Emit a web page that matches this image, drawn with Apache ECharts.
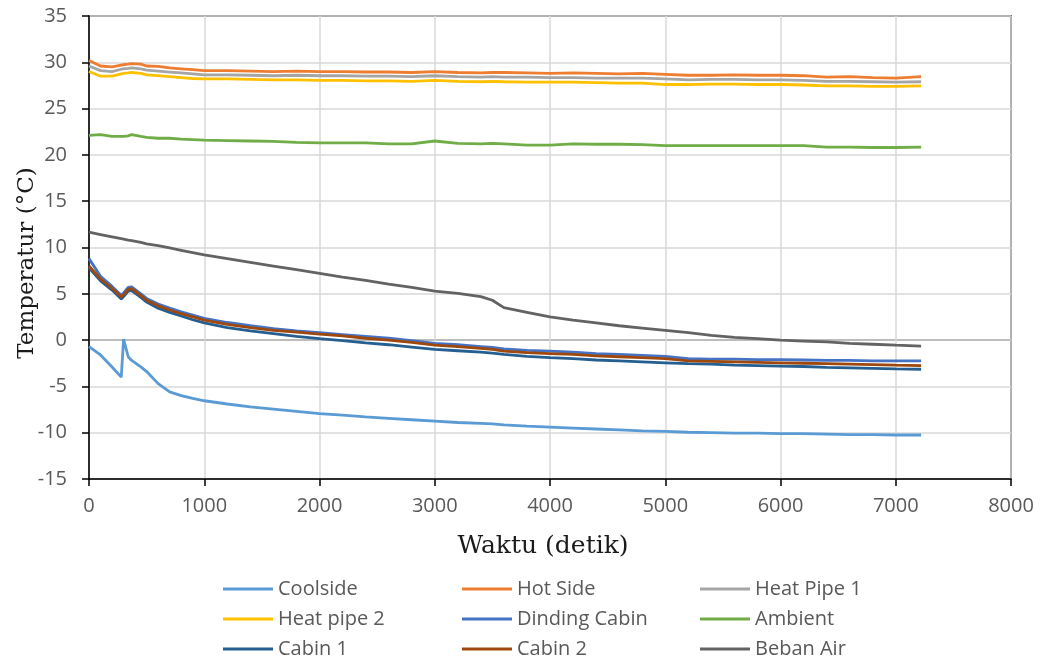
<!DOCTYPE html>
<html>
<head>
<meta charset="utf-8">
<script src="https://cdn.jsdelivr.net/npm/echarts@6/dist/echarts.min.js"></script>
<style>
html,body{margin:0;padding:0;background:#fff;}
#chart{width:1042px;height:663px;}
</style>
</head>
<body>
<div id="chart"></div>
<script>
// time axis (detik)
const times = [0,100,200,280,290,300,340,370,450,500,600,700,800,900,1000,1200,1400,1600,1800,2000,2200,2400,2600,2800,3000,3200,3400,3500,3600,3800,4000,4200,4400,4600,4800,5000,5200,5400,5600,5800,6000,6200,6400,6600,6800,7000,7220];

const coolside = [-0.7,-1.6,-2.9,-4.0,-4.2,0.1,-1.8,-2.2,-2.9,-3.4,-4.7,-5.6,-6.0,-6.3,-6.55,-6.9,-7.2,-7.45,-7.7,-7.95,-8.1,-8.3,-8.45,-8.6,-8.75,-8.9,-9.0,-9.05,-9.15,-9.3,-9.4,-9.5,-9.6,-9.7,-9.8,-9.85,-9.95,-10.0,-10.05,-10.05,-10.1,-10.1,-10.15,-10.2,-10.2,-10.25,-10.25];
const hotSide = [30.2,29.6,29.5,29.7,29.7,29.75,29.8,29.85,29.8,29.6,29.55,29.4,29.3,29.2,29.1,29.1,29.05,29.0,29.05,29.0,29.0,28.95,28.95,28.9,29.0,28.9,28.85,28.9,28.9,28.85,28.8,28.85,28.8,28.75,28.8,28.7,28.6,28.6,28.65,28.6,28.6,28.55,28.4,28.45,28.35,28.3,28.45];
const heatPipe1 = [29.6,29.1,29.0,29.25,29.25,29.3,29.35,29.4,29.3,29.15,29.05,28.95,28.85,28.75,28.65,28.65,28.6,28.55,28.6,28.55,28.55,28.5,28.5,28.45,28.55,28.45,28.4,28.45,28.4,28.4,28.35,28.35,28.3,28.3,28.3,28.2,28.1,28.15,28.15,28.1,28.1,28.05,27.95,27.95,27.9,27.85,27.9];
const heatPipe2 = [29.0,28.5,28.5,28.75,28.75,28.8,28.85,28.9,28.8,28.65,28.55,28.45,28.35,28.25,28.2,28.2,28.15,28.1,28.1,28.05,28.05,28.0,28.0,27.95,28.05,27.95,27.9,27.95,27.9,27.85,27.85,27.85,27.8,27.75,27.75,27.6,27.6,27.65,27.65,27.6,27.6,27.55,27.45,27.45,27.4,27.4,27.45];
const dindingCabin = [8.8,6.9,5.8,4.85,4.7,5.1,5.7,5.75,5.0,4.5,3.9,3.45,3.05,2.7,2.35,1.9,1.55,1.25,1.0,0.8,0.6,0.4,0.2,-0.05,-0.35,-0.5,-0.7,-0.8,-0.95,-1.1,-1.2,-1.3,-1.45,-1.55,-1.65,-1.75,-2.0,-2.05,-2.05,-2.1,-2.1,-2.15,-2.2,-2.2,-2.25,-2.25,-2.25];
const ambient = [22.1,22.2,22.0,22.0,22.0,22.0,22.05,22.2,22.0,21.9,21.8,21.8,21.7,21.65,21.6,21.55,21.5,21.45,21.35,21.3,21.3,21.3,21.2,21.2,21.5,21.25,21.2,21.25,21.2,21.05,21.05,21.2,21.15,21.15,21.1,21.0,21.0,21.0,21.0,21.0,21.0,21.0,20.85,20.85,20.8,20.8,20.85];
const cabin1 = [7.8,6.4,5.4,4.45,4.3,4.7,5.3,5.35,4.6,4.1,3.45,3.0,2.6,2.2,1.85,1.35,1.0,0.7,0.4,0.15,-0.05,-0.3,-0.5,-0.75,-1.0,-1.15,-1.3,-1.4,-1.55,-1.75,-1.9,-2.0,-2.15,-2.25,-2.35,-2.45,-2.55,-2.6,-2.7,-2.75,-2.8,-2.85,-2.95,-3.0,-3.05,-3.1,-3.15];
const cabin2 = [8.0,6.6,5.6,4.65,4.5,4.9,5.5,5.55,4.8,4.3,3.7,3.25,2.85,2.5,2.15,1.7,1.35,1.05,0.85,0.65,0.45,0.2,0.0,-0.25,-0.55,-0.7,-0.9,-1.0,-1.2,-1.35,-1.45,-1.55,-1.7,-1.8,-1.9,-2.0,-2.25,-2.3,-2.35,-2.4,-2.45,-2.5,-2.55,-2.6,-2.65,-2.7,-2.75];
const bebanAir = [11.65,11.4,11.15,10.95,10.93,10.9,10.8,10.75,10.55,10.4,10.2,9.95,9.7,9.45,9.2,8.8,8.4,8.0,7.6,7.2,6.8,6.45,6.05,5.7,5.3,5.05,4.7,4.3,3.5,3.0,2.5,2.15,1.85,1.55,1.3,1.05,0.8,0.5,0.3,0.15,0.0,-0.1,-0.2,-0.35,-0.45,-0.55,-0.65];

const seriesNames = ['Coolside','Hot Side','Heat Pipe 1','Heat pipe 2','Dinding Cabin','Ambient','Cabin 1','Cabin 2','Beban Air'];
const seriesValues = [coolside,hotSide,heatPipe1,heatPipe2,dindingCabin,ambient,cabin1,cabin2,bebanAir];
const seriesColors = ['#5B9BD5','#ED7D31','#A5A5A5','#FFC000','#4472C4','#70AD47','#255E91','#9E480E','#636363'];

const xTitle = 'Waktu (detik)';
const yTitle = 'Temperatur (°C)';

const chart = echarts.init(document.getElementById('chart'));

const tickFont = {fontFamily:'"Open Sans"', fontSize:20, color:'#595959'};
const legendCommon = {
  orient:'vertical', top:574, height:110, itemWidth:50, itemHeight:14, itemGap:10,
  icon:'path://M0,0 L50,0 L50,3 L0,3 Z',
  textStyle:{fontFamily:'"Open Sans"', fontSize:20, color:'#595959'}
};

const ySplitColors = [];
for (let v=-15; v<=35; v+=5) ySplitColors.push(v===0 ? '#a6a6a6' : '#d9d9d9');

chart.setOption({
  animation:false,
  backgroundColor:'#fff',
  grid:{left:89, right:31, top:16, bottom:184, show:true, borderColor:'#000', borderWidth:1.5, containLabel:false},
  xAxis:{
    type:'value', min:0, max:8000, interval:1000,
    axisLine:{show:true, onZero:false, lineStyle:{color:'#000', width:1.5}},
    axisTick:{show:true, length:7, lineStyle:{color:'#000', width:1.5}},
    axisLabel:{margin:17, formatter:(v)=>String(v), ...tickFont},
    splitLine:{show:true, lineStyle:{color:'#d9d9d9', width:1.5}}
  },
  yAxis:{
    type:'value', min:-15, max:35, interval:5,
    axisLine:{show:true, onZero:false, lineStyle:{color:'#000', width:1.5}},
    axisTick:{show:true, length:7, lineStyle:{color:'#000', width:1.5}},
    axisLabel:{margin:22, formatter:(v)=>String(v), ...tickFont},
    splitLine:{show:true, lineStyle:{color:ySplitColors, width:1.5}}
  },
  legend:[
    Object.assign({left:218, data:['Coolside','Heat pipe 2','Cabin 1']}, legendCommon),
    Object.assign({left:457, data:['Hot Side','Dinding Cabin','Cabin 2']}, legendCommon),
    Object.assign({left:695, data:['Heat Pipe 1','Ambient','Beban Air']}, legendCommon)
  ],
  graphic:[
    {type:'text', x:543, y:546, style:{text:xTitle, fontFamily:'"DejaVu Serif"', fontSize:25, fill:'#1a1a1a', align:'center', verticalAlign:'middle'}},
    {type:'text', x:27, y:263, rotation:Math.PI/2, style:{text:yTitle, fontFamily:'"DejaVu Serif"', fontSize:23, fill:'#1a1a1a', align:'center', verticalAlign:'middle'}}
  ],
  series: seriesNames.map((name,k)=>({
    name:name, type:'line', symbol:'none', showSymbol:false,
    color:seriesColors[k],
    lineStyle:{width:2.8, color:seriesColors[k]},
    data: times.map((t,i)=>[t, seriesValues[k][i]])
  }))
});
</script>
</body>
</html>
